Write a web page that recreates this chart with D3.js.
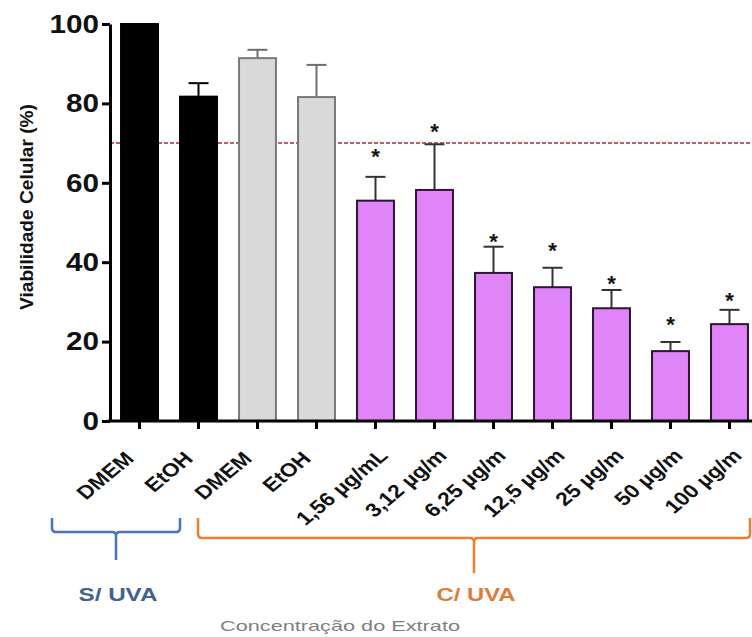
<!DOCTYPE html>
<html><head><meta charset="utf-8">
<script src="https://cdn.jsdelivr.net/npm/d3@7"></script>
<style>
body{margin:0;background:#fff;}
svg{display:block;font-family:"Liberation Sans",Arial,sans-serif;}
</style></head><body>
<svg id="c" width="752" height="637"></svg>
<script>
const categories = ["DMEM","EtOH","DMEM","EtOH","1,56 µg/mL","3,12 µg/m","6,25 µg/m","12,5 µg/m","25 µg/m","50 µg/m","100 µg/m"];
const groups = ["black","black","gray","gray","purple","purple","purple","purple","purple","purple","purple"];
const means = [100, 81.7, 91.4, 81.6, 55.5, 58.2, 37.3, 33.7, 28.4, 17.6, 24.4];
const errors = [0, 3.4, 2.1, 8.1, 6.0, 11.5, 6.6, 4.9, 4.6, 2.3, 3.6];
const stars = [null, null, null, null, 68.3, 74.6, 47.1, 44.6, 36.3, 26.0, 32.0];
const yTicks = [0, 20, 40, 60, 80, 100];
const threshold = 70;
const brackets = [
  {label:"S/ UVA", from:0, to:1, color:"#4472c4", text:"#44608f"},
  {label:"C/ UVA", from:2, to:10, color:"#ed7d31", text:"#e07b39"}
];
const xTitle = "Concentração do Extrato";
const yTitle = "Viabilidade Celular (%)";

const styles = {
  black:{fill:"#000", stroke:"#000", err:"#000", lx:-10, ly:455},
  gray:{fill:"#d9d9d9", stroke:"#7a7a7a", err:"#6e6e6e", lx:-10, ly:455},
  purple:{fill:"#df85f7", stroke:"#2e1436", err:"#333", lx:8, ly:452}
};

const svg = d3.select("#c");
const x = d3.scaleBand().domain(d3.range(categories.length)).range([110, 759]).paddingInner(0.34).paddingOuter(0.17);
const y = d3.scaleLinear().domain([0, 100]).range([421, 24]);

// threshold line
svg.append("line").attr("x1", 110).attr("x2", 752).attr("y1", y(threshold)).attr("y2", y(threshold))
  .attr("stroke", "#c45a6a").attr("stroke-width", 2).attr("stroke-dasharray", "4,2");

// error bars
const bw = x.bandwidth();
means.forEach((m, i) => {
  if (!errors[i]) return;
  const cx = x(i) + bw / 2, st = styles[groups[i]];
  svg.append("line").attr("x1", cx).attr("x2", cx).attr("y1", y(m)).attr("y2", y(m + errors[i]))
    .attr("stroke", st.err).attr("stroke-width", 2);
  svg.append("line").attr("x1", cx - 10).attr("x2", cx + 10).attr("y1", y(m + errors[i])).attr("y2", y(m + errors[i]))
    .attr("stroke", st.err).attr("stroke-width", 2);
});

// bars
svg.append("g").selectAll("rect").data(means).join("rect")
  .attr("x", (d, i) => x(i) + 1).attr("width", bw - 2)
  .attr("y", d => y(d)).attr("height", d => y(0) - y(d))
  .attr("fill", (d, i) => styles[groups[i]].fill)
  .attr("stroke", (d, i) => styles[groups[i]].stroke).attr("stroke-width", 2);

// stars
svg.append("g").selectAll("text").data(stars.map((s, i) => ({s, i})).filter(d => d.s != null)).join("text")
  .attr("x", d => x(d.i) + bw / 2).attr("y", d => y(d.s)).attr("dy", "0.66em")
  .attr("text-anchor", "middle").attr("font-size", 22).attr("font-weight", "bold").attr("fill", "#111")
  .text("*");

// y axis
const yAxis = d3.axisLeft(y).tickValues(yTicks).tickSize(8).tickPadding(3).tickSizeOuter(0);
const gy = svg.append("g").attr("transform", "translate(110,0)").call(yAxis);
gy.select(".domain").attr("stroke", "#000").attr("stroke-width", 3);
gy.selectAll(".tick line").attr("stroke", "#000").attr("stroke-width", 3);
gy.selectAll(".tick text").attr("font-size", 26).attr("font-weight", "bold").attr("fill", "#111")
  .attr("font-family", "'Liberation Sans',Arial,sans-serif").attr("textLength", d => String(d).length * 16.5).attr("lengthAdjust", "spacingAndGlyphs");

// x axis
const xAxis = d3.axisBottom(x).tickSize(8).tickSizeOuter(0).tickFormat(() => "");
const gx = svg.append("g").attr("transform", "translate(0,421)").call(xAxis);
gx.select(".domain").attr("stroke", "#000").attr("stroke-width", 3).attr("d", "M108,0H752");
gx.selectAll(".tick line").attr("stroke", "#000").attr("stroke-width", 3);
svg.append("g").selectAll("text").data(categories).join("text")
  .attr("transform", (d, i) => {
    const st = styles[groups[i]];
    return `translate(${x(i) + bw / 2 + st.lx},${st.ly}) scale(1.2,1) rotate(-45)`;
  })
  .attr("text-anchor", "end").attr("dy", "0.35em")
  .attr("font-size", 19).attr("font-weight", "bold").attr("fill", "#111").text(d => d);

// brackets
brackets.forEach(b => {
  const x0 = b.from === 0 ? 52 : x(b.from) - 40, x1 = b.to === 10 ? 750 : 180;
  const mid = b.from === 0 ? 116 : 474;
  const top = 518, h = b.from === 0 ? 532 : 538, stemEnd = b.from === 0 ? 560 : 573;
  const p = d3.path();
  p.moveTo(x0, top); p.lineTo(x0, h - 4); p.quadraticCurveTo(x0, h, x0 + 4, h);
  p.lineTo(mid - 4, h); p.quadraticCurveTo(mid, h, mid, h + 4); p.lineTo(mid, stemEnd);
  p.moveTo(mid, h + 4); p.quadraticCurveTo(mid, h, mid + 4, h);
  p.lineTo(x1 - 4, h); p.quadraticCurveTo(x1, h, x1, h - 4); p.lineTo(x1, top);
  svg.append("path").attr("d", p.toString()).attr("fill", "none").attr("stroke", b.color).attr("stroke-width", 2.5);
  svg.append("text").attr("x", mid + 2).attr("y", 601).attr("text-anchor", "middle")
    .attr("font-size", 18).attr("font-weight", "bold").attr("fill", b.text)
    .attr("textLength", 79).attr("lengthAdjust", "spacingAndGlyphs").text(b.label);
});

// titles
svg.append("text").attr("x", 340).attr("y", 631).attr("text-anchor", "middle")
  .attr("font-size", 15).attr("fill", "#808080").attr("textLength", 240).attr("lengthAdjust", "spacingAndGlyphs").text(xTitle);
svg.append("text").attr("transform", "translate(33,207) rotate(-90)").attr("text-anchor", "middle")
  .attr("font-size", 19).attr("font-weight", "bold").attr("fill", "#111")
  .attr("textLength", 206).attr("lengthAdjust", "spacingAndGlyphs").text(yTitle);
</script>
</body></html>
